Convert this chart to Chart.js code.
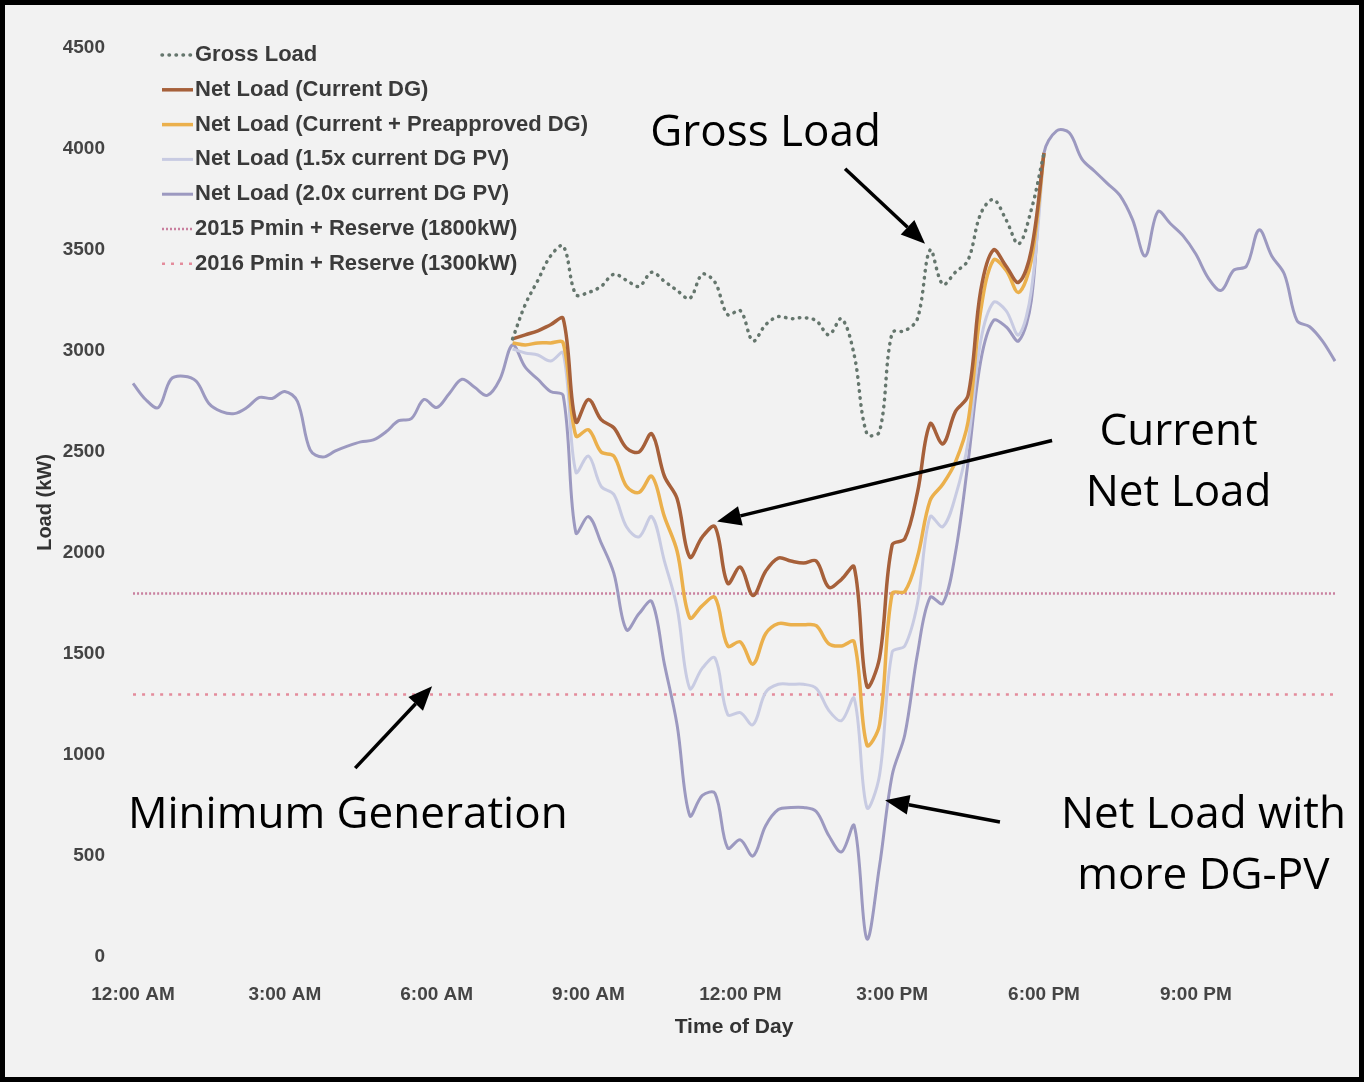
<!DOCTYPE html>
<html>
<head>
<meta charset="utf-8">
<script src="https://cdn.jsdelivr.net/npm/chart.js@4.4.1/dist/chart.umd.min.js"></script>
<style>
  html, body { margin: 0; padding: 0; background: #f2f2f2; }
  #frame {
    position: absolute; left: 0; top: 0;
    width: 1364px; height: 1082px;
    box-sizing: border-box; border: 5px solid #000; background: #f2f2f2;
  }
  #loadChart { position: absolute; left: 0; top: 0; }
</style>
</head>
<body>
<div id="frame"></div>
<canvas id="loadChart" width="1364" height="1082"></canvas>
<script>
// 15分刻みの時刻ラベル（0:00〜23:45）
const timeLabels = [];
for (let q = 0; q < 96; q++) {
  const h = Math.floor(q / 4);
  const m = (q % 4) * 15;
  const h12 = h % 12 === 0 ? 12 : h % 12;
  timeLabels.push(`${h12}:${String(m).padStart(2, "0")} ${h < 12 ? "AM" : "PM"}`);
}

// 日中の系列は 7:30 AM (index 30) 〜 6:00 PM (index 72)
const dayStart = 30;

const grossLoadDay = [
  3060, 3230, 3350, 3470, 3520, 3280, 3290, 3320, 3380, 3350,
  3320, 3390, 3345, 3300, 3260, 3380, 3340, 3180, 3200, 3050,
  3130, 3170, 3160, 3165, 3150, 3080, 3160, 2980, 2590, 2600,
  3090, 3100, 3160, 3500, 3330, 3390, 3450, 3680, 3750, 3650,
  3530, 3700, 3980,
];

const netCurrentDay = [
  3060, 3080, 3100, 3130, 3160, 2650, 2760, 2660, 2620, 2520,
  2500, 2590, 2380, 2270, 1980, 2080, 2130, 1850, 1930, 1790,
  1910, 1975, 1960, 1950, 1960, 1830, 1870, 1930, 1340, 1480,
  2040, 2070, 2300, 2640, 2540, 2700, 2780, 3300, 3500, 3420,
  3340, 3500, 3980,
];

const netPreapprovedDay = [
  3040, 3030, 3040, 3040, 3040, 2580, 2610, 2500, 2480, 2330,
  2300, 2380, 2180, 2010, 1680, 1740, 1780, 1540, 1560, 1450,
  1600, 1650, 1645, 1645, 1640, 1550, 1540, 1560, 1050, 1150,
  1800, 1810, 1980, 2260, 2340, 2450, 2650, 3200, 3450, 3400,
  3290, 3450, 3980,
];

const net15xDay = [
  3010, 2990, 2980, 2950, 2990, 2400, 2480, 2330, 2290, 2130,
  2080, 2180, 1960, 1730, 1330, 1430, 1480, 1200, 1210, 1150,
  1310, 1350, 1350, 1350, 1330, 1220, 1170, 1280, 740, 900,
  1510, 1540, 1750, 2180, 2130, 2280, 2550, 3050, 3240, 3200,
  3080, 3300, 3980,
];

// 2.0x は終日（夜間は全系列が同じ値）
const net20x = [
  2840, 2760, 2720, 2860, 2875, 2850, 2740, 2700, 2690, 2720,
  2770, 2765, 2800, 2750, 2510, 2475, 2505, 2530, 2550, 2560,
  2600, 2655, 2665, 2760, 2720, 2790, 2860, 2820, 2780, 2860,
  3030, 2920, 2860, 2800, 2780, 2100, 2180, 2050, 1900, 1620,
  1700, 1760, 1450, 1150, 700, 800, 810, 540, 580, 500,
  650, 730, 740, 740, 720, 600, 520, 650, 90, 450,
  900, 1100, 1500, 1780, 1750, 2000, 2450, 2950, 3150, 3120,
  3050, 3250, 3980, 4090, 4080, 3950, 3890, 3830, 3770, 3650,
  3470, 3690, 3630, 3570, 3480, 3360, 3300, 3400, 3420, 3600,
  3470, 3380, 3150, 3120, 3050, 2950,
];

const pmin2015 = 1800;
const pmin2016 = 1300;

const yTicksMax = 4500;
const yTickStep = 500;

function daySeries(values) {
  return timeLabels.map((_, i) =>
    i >= dayStart && i < dayStart + values.length ? values[i - dayStart] : null
  );
}

function flatLine(value) {
  return [
    { x: timeLabels[0], y: value },
    { x: timeLabels[timeLabels.length - 1], y: value },
  ];
}

// 注釈（時間[h], kW）
const calloutTexts = [
  { lines: ["Gross Load"], hour: 10.22, kw: 4075, align: "left" },
  { lines: ["Current", "Net Load"], hour: 20.66, kw: 2596, align: "center" },
  { lines: ["Minimum Generation"], hour: -0.1, kw: 702, align: "left" },
  { lines: ["Net Load with", "more DG-PV"], hour: 21.15, kw: 702, align: "center" },
];

const calloutArrows = [
  { from: [14.07, 3902], to: [15.65, 3531] },
  { from: [18.16, 2557], to: [11.54, 2156] },
  { from: [4.39, 935], to: [5.91, 1340] },
  { from: [17.13, 668], to: [14.86, 776] },
];

function drawArrow(ctx, x1, y1, x2, y2) {
  const ang = Math.atan2(y2 - y1, x2 - x1);
  const headLen = 24;
  const headHalf = 10;
  const bx = x2 - headLen * Math.cos(ang);
  const by = y2 - headLen * Math.sin(ang);
  ctx.beginPath();
  ctx.moveTo(x1, y1);
  ctx.lineTo(bx, by);
  ctx.lineWidth = 3.5;
  ctx.strokeStyle = "#000";
  ctx.stroke();
  ctx.beginPath();
  ctx.moveTo(x2, y2);
  ctx.lineTo(bx + headHalf * Math.sin(ang), by - headHalf * Math.cos(ang));
  ctx.lineTo(bx - headHalf * Math.sin(ang), by + headHalf * Math.cos(ang));
  ctx.closePath();
  ctx.fillStyle = "#000";
  ctx.fill();
}

const calloutPlugin = {
  id: "callouts",
  afterDatasetsDraw(chart) {
    const { ctx } = chart;
    const xs = chart.scales.x;
    const ys = chart.scales.y;
    ctx.save();
    calloutArrows.forEach((a) => {
      drawArrow(
        ctx,
        xs.getPixelForValue(a.from[0] * 4), ys.getPixelForValue(a.from[1]),
        xs.getPixelForValue(a.to[0] * 4), ys.getPixelForValue(a.to[1])
      );
    });
    ctx.font = '44px "Open Sans"';
    ctx.fillStyle = "#000";
    ctx.textBaseline = "middle";
    calloutTexts.forEach((t) => {
      const px = xs.getPixelForValue(t.hour * 4);
      const py = ys.getPixelForValue(t.kw);
      ctx.textAlign = t.align;
      t.lines.forEach((line, k) => ctx.fillText(line, px, py + k * 61));
    });
    ctx.restore();
  },
};

// 凡例（左上に縦並び）
const legendPlugin = {
  id: "stackedLegend",
  afterDraw(chart) {
    const { ctx } = chart;
    ctx.save();
    ctx.font = 'bold 22px "Liberation Sans"';
    ctx.textBaseline = "middle";
    ctx.textAlign = "left";
    chart.data.datasets.forEach((ds, i) => {
      const yRow = 55 + i * 34.8;
      ctx.beginPath();
      ctx.setLineDash(ds.borderDash || []);
      ctx.lineCap = ds.borderCapStyle || "butt";
      ctx.strokeStyle = ds.borderColor;
      ctx.lineWidth = ds.borderWidth;
      ctx.moveTo(162, yRow);
      ctx.lineTo(193, yRow);
      ctx.stroke();
      ctx.setLineDash([]);
      ctx.fillStyle = "#3a3a3a";
      ctx.fillText(ds.label, 195, yRow);
    });
    ctx.restore();
  },
};

const lineBase = {
  pointRadius: 0,
  pointHoverRadius: 0,
  fill: false,
  tension: 0.35,
  spanGaps: false,
};

const ctx = document.getElementById("loadChart").getContext("2d");
window.loadChartInstance = new Chart(ctx, {
  type: "line",
  data: {
    labels: timeLabels,
    datasets: [
      {
        ...lineBase,
        label: "Gross Load",
        data: daySeries(grossLoadDay),
        borderColor: "#65766d",
        borderWidth: 3.5,
        borderDash: [0.5, 6.5],
        borderCapStyle: "round",
      },
      {
        ...lineBase,
        label: "Net Load (Current DG)",
        data: daySeries(netCurrentDay),
        borderColor: "#a6603a",
        borderWidth: 3.5,
      },
      {
        ...lineBase,
        label: "Net Load (Current + Preapproved DG)",
        data: daySeries(netPreapprovedDay),
        borderColor: "#ebb04c",
        borderWidth: 3.5,
      },
      {
        ...lineBase,
        label: "Net Load (1.5x current DG PV)",
        data: daySeries(net15xDay),
        borderColor: "#c8cbe2",
        borderWidth: 3,
      },
      {
        ...lineBase,
        label: "Net Load (2.0x current DG PV)",
        data: net20x,
        borderColor: "#9c99c0",
        borderWidth: 3,
      },
      {
        ...lineBase,
        label: "2015 Pmin + Reserve (1800kW)",
        data: flatLine(pmin2015),
        borderColor: "#c9809f",
        borderWidth: 2.5,
        borderDash: [2, 2],
      },
      {
        ...lineBase,
        label: "2016 Pmin + Reserve (1300kW)",
        data: flatLine(pmin2016),
        borderColor: "#e48c9c",
        borderWidth: 2.5,
        borderDash: [3, 6],
      },
    ],
  },
  options: {
    responsive: false,
    animation: false,
    events: [],
    layout: {
      padding: { top: 48, right: 29, bottom: 0, left: 0 },
    },
    scales: {
      x: {
        type: "category",
        offset: false,
        grid: { display: false, drawTicks: false },
        border: { display: false },
        afterFit: (scale) => { scale.height = 125; },
        ticks: {
          autoSkip: false,
          minRotation: 0,
          maxRotation: 0,
          padding: 26,
          color: "#444",
          font: { family: "Liberation Sans", size: 19, weight: "bold" },
          callback: function (value, index) {
            return index % 12 === 0 ? this.getLabelForValue(value) : "";
          },
        },
        title: {
          display: true,
          text: "Time of Day",
          color: "#333",
          font: { family: "Liberation Sans", size: 21, weight: "bold" },
          padding: { top: 0, bottom: 42 },
        },
      },
      y: {
        min: 0,
        max: yTicksMax,
        grid: { display: false, drawTicks: false },
        border: { display: false },
        afterFit: (scale) => { scale.width = 133; },
        ticks: {
          stepSize: yTickStep,
          padding: 28,
          color: "#444",
          font: { family: "Liberation Sans", size: 19, weight: "bold" },
          callback: (value) => String(value),
        },
        title: {
          display: true,
          text: "Load (kW)",
          color: "#333",
          font: { family: "Liberation Sans", size: 20, weight: "bold" },
          padding: { top: 33, bottom: 0 },
        },
      },
    },
    plugins: {
      legend: { display: false },
      tooltip: { enabled: false },
    },
  },
  plugins: [calloutPlugin, legendPlugin],
});
</script>
</body>
</html>
